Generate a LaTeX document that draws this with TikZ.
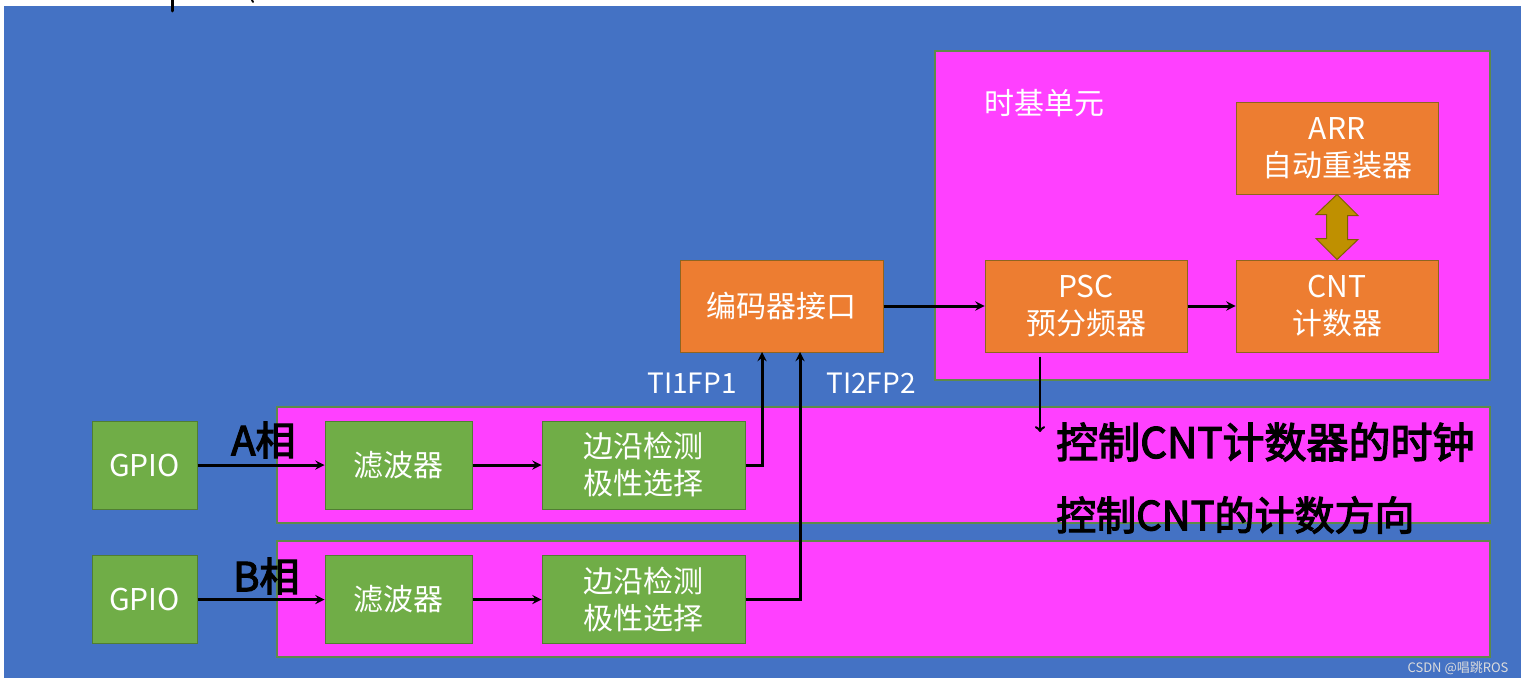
\documentclass[tikz,border=0pt]{standalone}
\usepackage{fontspec}
\setmainfont{Noto Sans CJK SC}
\newfontfamily\hand[FakeBold=3]{Noto Sans CJK SC}

\definecolor{bluebg}{HTML}{4472C4}
\definecolor{pinkbg}{HTML}{FF40FF}
\definecolor{pinkline}{HTML}{5E8A4A}
\definecolor{orangefill}{HTML}{ED7D31}
\definecolor{orangeline}{HTML}{8E6420}
\definecolor{greenfill}{HTML}{70AD47}
\definecolor{greenline}{HTML}{507E32}
\definecolor{goldfill}{HTML}{BF9000}
\definecolor{goldline}{HTML}{7F6000}
\definecolor{markgray}{HTML}{DCDCDC}

\begin{document}
\begin{tikzpicture}[x=1pt, y=-1pt, >=stealth,
	txt/.style={text=white, font=\fontsize{30}{37}\selectfont, align=center},
	band/.style={draw=pinkline, line width=1.5pt, fill=pinkbg, minimum width=1213pt, minimum height=116pt, inner sep=0},
	orangebox/.style={txt, draw=orangeline, line width=1pt, fill=orangefill, minimum width=202pt, minimum height=92pt, inner sep=0},
	greenbox/.style={txt, draw=greenline, line width=1pt, fill=greenfill, minimum width=203pt, minimum height=88pt, inner sep=0},
	link/.style={->, line width=3pt},
	hw/.style={text=black, anchor=west, inner sep=0}]
	\useasboundingbox (0,0) rectangle (1531,685);
	\fill[white] (0,0) rectangle (1531,685);
	\fill[bluebg] (4,6) rectangle (1521,678);
	\draw[line width=3pt, line cap=round] (172,0) -- (172,11);
	\draw[line width=2pt, line cap=round] (252,0) -- (253,2);

	\node[draw=pinkline, line width=1.5pt, fill=pinkbg, minimum width=555pt, minimum height=329pt, inner sep=0] (base) at (1212.5,215.5) {};
	\node[txt, anchor=west] (basename) at (981,103) {时基单元};
	\node[band] (bandA) at (883.5,465) {};
	\node[band] (bandB) at (883.5,599) {};

	\node[orangebox] (arr) at (1337,148) {ARR\\自动重装器};
	\node[orangebox] (cnt) at (1337,306) {CNT\\计数器};
	\node[orangebox] (psc) at (1086,306) {PSC\\预分频器};
	\node[orangebox, minimum width=203pt] (enc) at (781.5,306) {编码器接口};

	\node[greenbox, minimum width=105pt] (gpioA) at (144.5,465) {GPIO};
	\node[greenbox, minimum width=147pt] (filtA) at (398.5,465) {滤波器};
	\node[greenbox] (edgeA) at (643.5,465) {边沿检测\\极性选择};
	\node[greenbox, minimum width=105pt] (gpioB) at (144.5,599.5) {GPIO};
	\node[greenbox, minimum width=147pt] (filtB) at (398.5,599.5) {滤波器};
	\node[greenbox] (edgeB) at (643.5,599.5) {边沿检测\\极性选择};

	\node[txt, font=\fontsize{28}{28}\selectfont] (tione) at (692,383) {TI1FP1};
	\node[txt, font=\fontsize{28}{28}\selectfont] (titwo) at (871,383) {TI2FP2};
	\coordinate (ti1) at (762,352);
	\coordinate (ti2) at (800,352);

	\draw[link] (enc) -- (psc);
	\draw[link] (psc) -- (cnt);
	\draw[link] (gpioA) -- (filtA);
	\draw[link] (filtA) -- (edgeA);
	\draw[link] (gpioB) -- (filtB);
	\draw[link] (filtB) -- (edgeB);
	\draw[link] (edgeA.east) -| (ti1);
	\draw[link] (edgeB.east) -| (ti2);

	% ARR <-> CNT
	\filldraw[fill=goldfill, draw=goldline, line width=1pt] (arr.south) -- ++(21,21) -- ++(-10.5,0) -- ++(0,24) -- ++(10.5,0) -- (cnt.north) -- ++(-21,-21) -- ++(10.5,0) -- ++(0,-24) -- ++(-10.5,0) -- cycle;

	% handwriting
	\node[hw, font=\hand\fontsize{40}{40}\selectfont] (aname) at (231,440) {A相};
	\node[hw, font=\hand\fontsize{40}{40}\selectfont] (bname) at (233,576) {B相};
	\coordinate (pscdown) at (1040,432);
	\draw[->, >=to, line width=2.5pt] ([yshift=-4pt]psc.south -| pscdown) -- (pscdown);
	\node[hw, font=\hand\fontsize{42}{42}\selectfont] (noteone) at (1056,442) {控制CNT计数器的时钟};
	\node[hw, font=\hand\fontsize{40}{40}\selectfont] (notetwo) at (1056,515) {控制CNT的计数方向};

	\node[text=markgray, font=\fontsize{13}{13}\selectfont, inner sep=0] (mark) at (1458,668) {CSDN @唱跳ROS};
\end{tikzpicture}
\end{document}
